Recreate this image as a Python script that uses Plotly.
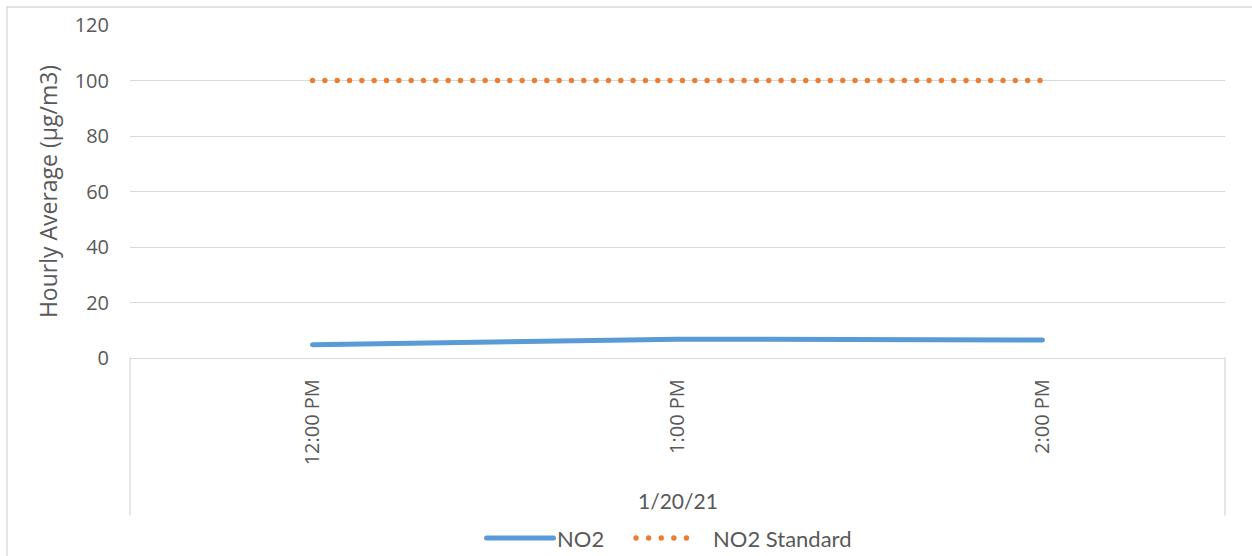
import plotly.graph_objects as go

# ---- data ----
times = ["12:00 PM", "1:00 PM", "2:00 PM"]
date_label = "1/20/21"
no2 = [4.8, 6.8, 6.5]
no2_standard = [100, 100, 100]
series_names = ["NO2", "NO2 Standard"]
y_ticks = [0, 20, 40, 60, 80, 100, 120]
y_title = "Hourly Average (µg/m3)"

# ---- style ----
W, H = 1252, 556
L, R, T, B = 130, 1225, 25, 358
PW, PH = R - L, B - T
BLUE = "#5B9BD5"
ORANGE = "#ED7D31"
GRID = "#D9D9D9"
TXT = "#595959"
TICKFONT = "Open Sans"
CALFONT = "Lato"


def px(x):
    return (x - L) / PW


def py(y):
    return (B - y) / PH


fig = go.Figure()
fig.add_trace(go.Scatter(
    x=times, y=no2, name=series_names[0], mode="lines",
    line=dict(color=BLUE, width=5), showlegend=False, hoverinfo="x+y"))
fig.add_trace(go.Scatter(
    x=times, y=no2_standard, name=series_names[1], mode="lines",
    line=dict(color=ORANGE, width=5.3, dash="0.1px,12.23px"),
    showlegend=False, hoverinfo="x+y"))

shapes = []
# chart-area border (left and top visible)
shapes.append(dict(type="line", xref="paper", yref="paper",
                   x0=px(7), x1=px(7), y0=py(7), y1=py(600),
                   line=dict(color=GRID, width=1.3)))
shapes.append(dict(type="line", xref="paper", yref="paper",
                   x0=px(7), x1=px(1300), y0=py(7), y1=py(7),
                   line=dict(color=GRID, width=1.3)))
# multi-level category separators
for xe in (0, 1):
    shapes.append(dict(type="line", xref="paper", yref="paper",
                       x0=xe, x1=xe, y0=0, y1=py(515),
                       line=dict(color=GRID, width=1.3)))
# legend samples
LEG_Y = py(538)
shapes.append(dict(type="line", xref="paper", yref="paper",
                   x0=px(486.5), x1=px(553.5), y0=LEG_Y, y1=LEG_Y,
                   line=dict(color=BLUE, width=5)))
shapes.append(dict(type="line", xref="paper", yref="paper",
                   x0=px(636), x1=px(699), y0=LEG_Y, y1=LEG_Y,
                   line=dict(color=ORANGE, width=5.3, dash="0.1px,12.5px")))

annotations = [
    dict(text=date_label, xref="paper", yref="paper", x=0.5, y=py(500),
         xanchor="center", yanchor="middle", showarrow=False,
         font=dict(family=CALFONT, size=21, color=TXT)),
    dict(text=series_names[0], xref="paper", yref="paper", x=px(555), y=LEG_Y,
         xanchor="left", yanchor="middle", showarrow=False,
         font=dict(family=CALFONT, size=22, color=TXT)),
    dict(text=series_names[1], xref="paper", yref="paper", x=px(711), y=LEG_Y,
         xanchor="left", yanchor="middle", showarrow=False,
         font=dict(family=CALFONT, size=22, color=TXT)),
]

fig.update_layout(
    width=W, height=H,
    margin=dict(l=L, r=W - R, t=T, b=H - B, pad=0, autoexpand=False),
    paper_bgcolor="white", plot_bgcolor="white",
    showlegend=False,
    shapes=shapes, annotations=annotations,
    font=dict(family=TICKFONT, color=TXT),
)
fig.update_xaxes(
    type="category", categoryorder="array", categoryarray=times,
    range=[-0.5, 2.5], showgrid=False, zeroline=False,
    showline=True, linecolor=GRID, linewidth=1.3,
    ticks="", tickangle=-90, ticklabelstandoff=12,
    tickfont=dict(family=TICKFONT, size=20, color=TXT),
    automargin=False, fixedrange=True,
)
fig.update_yaxes(
    range=[0, 120], tickvals=y_ticks, showgrid=True, gridcolor=GRID,
    gridwidth=1.3, zeroline=False, showline=False, ticks="",
    ticklabelstandoff=20,
    tickfont=dict(family=TICKFONT, size=20, color=TXT),
    title=dict(text=y_title, standoff=10,
               font=dict(family=TICKFONT, size=23, color=TXT)),
    automargin=False, fixedrange=True,
)

post = """
var s=document.createElement('style');
s.textContent='html,body{margin:0;padding:0;overflow:hidden;} .scatterlayer path.js-line, .shapelayer path{stroke-linecap:round !important;}';
document.head.appendChild(s);
"""
fig.write_html("out.html", post_script=post, config={"displayModeBar": False})
